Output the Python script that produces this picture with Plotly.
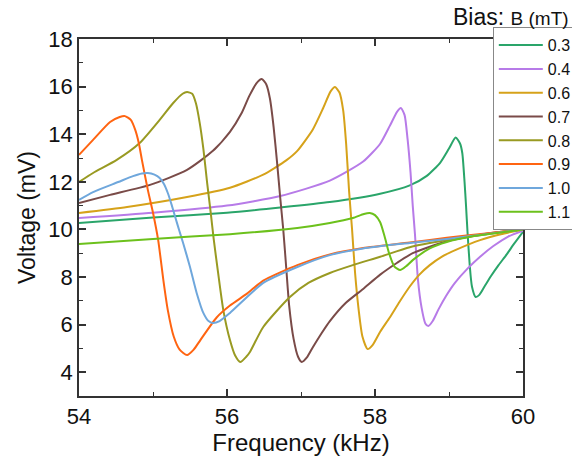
import plotly.graph_objects as go

labels = ["0.3", "0.4", "0.6", "0.7", "0.8", "0.9", "1.0", "1.1"]
colors = ["#2aa56a", "#b77be8", "#d6a21a", "#7a4b48", "#999a22", "#ff6411", "#6fa7dc", "#6cc11c"]

f_03 = [54.0, 55.0, 56.0, 56.72, 57.39, 58.07, 58.47, 58.7, 58.88, 59.0, 59.09, 59.15, 59.18, 59.21, 59.23, 59.25, 59.28, 59.31, 59.36, 59.41, 59.48, 59.57, 59.67, 59.78, 59.88, 60.0]
v_03 = [10.27, 10.5, 10.7, 10.92, 11.15, 11.5, 11.85, 12.25, 12.8, 13.4, 13.86, 13.6, 13.2, 12.0, 11.0, 9.9, 8.5, 7.6, 7.16, 7.25, 7.6, 8.05, 8.5, 8.95, 9.4, 9.9]

f_04 = [54.0, 55.0, 56.0, 56.72, 57.39, 57.84, 58.07, 58.2, 58.3, 58.35, 58.4, 58.44, 58.48, 58.51, 58.54, 58.58, 58.63, 58.68, 58.72, 58.78, 58.86, 58.96, 59.08, 59.25, 59.42, 59.6, 59.8, 60.0]
v_04 = [10.48, 10.7, 11.0, 11.4, 12.05, 12.85, 13.6, 14.35, 14.95, 15.1, 14.8, 13.8, 12.4, 11.0, 9.8, 7.9, 6.7, 6.05, 5.94, 6.15, 6.65, 7.2, 7.75, 8.35, 8.85, 9.3, 9.7, 9.95]

f_06 = [54.0, 54.65, 55.46, 56.04, 56.49, 56.8, 56.95, 57.16, 57.3, 57.4, 57.46, 57.52, 57.57, 57.61, 57.65, 57.69, 57.73, 57.78, 57.83, 57.9, 57.97, 58.07, 58.2, 58.33, 58.47, 58.6, 58.74, 58.9, 59.1, 59.42, 59.7, 60.0]
v_06 = [10.69, 10.94, 11.36, 11.75, 12.3, 12.9, 13.3, 14.2, 15.1, 15.8, 15.98, 15.75, 15.0, 13.6, 11.6, 10.0, 8.2, 6.6, 5.5, 4.97, 5.15, 5.7, 6.3, 6.95, 7.6, 8.1, 8.5, 8.85, 9.15, 9.55, 9.8, 10.0]

f_07 = [54.0, 54.42, 54.96, 55.46, 55.81, 56.04, 56.2, 56.3, 56.4, 56.47, 56.53, 56.58, 56.63, 56.68, 56.72, 56.76, 56.8, 56.84, 56.9, 56.96, 57.01, 57.08, 57.16, 57.28, 57.39, 57.6, 57.84, 58.07, 58.3, 58.51, 58.97, 59.5, 60.0]
v_07 = [11.11, 11.45, 11.87, 12.5, 13.3, 14.1, 14.9, 15.6, 16.15, 16.32, 16.1, 15.5, 14.3, 12.7, 11.3, 10.0, 8.4, 6.8, 5.4, 4.65, 4.43, 4.62, 5.05, 5.65, 6.15, 6.9, 7.5, 8.1, 8.6, 9.0, 9.5, 9.82, 10.0]

f_08 = [54.0, 54.19, 54.51, 54.82, 55.09, 55.27, 55.4, 55.46, 55.53, 55.58, 55.63, 55.68, 55.73, 55.78, 55.82, 55.88, 55.95, 56.04, 56.11, 56.18, 56.26, 56.31, 56.49, 56.85, 57.1, 57.39, 57.7, 58.07, 58.47, 58.97, 59.5, 60.0]
v_08 = [11.99, 12.37, 12.92, 13.63, 14.6, 15.3, 15.7, 15.77, 15.7, 15.3, 14.5, 13.4, 12.0, 10.7, 9.6, 8.17, 6.61, 5.35, 4.7, 4.43, 4.65, 4.85, 5.9, 7.16, 7.75, 8.17, 8.5, 8.85, 9.25, 9.55, 9.8, 10.0]

f_09 = [54.0, 54.19, 54.42, 54.55, 54.62, 54.7, 54.76, 54.81, 54.85, 54.93, 55.0, 55.07, 55.14, 55.2, 55.28, 55.36, 55.46, 55.55, 55.64, 55.86, 56.04, 56.27, 56.49, 56.95, 57.39, 57.84, 58.47, 58.97, 59.5, 60.0]
v_09 = [13.13, 13.76, 14.51, 14.72, 14.76, 14.6, 14.18, 13.6, 12.92, 11.66, 10.7, 9.55, 7.87, 6.61, 5.5, 4.95, 4.72, 4.95, 5.35, 6.3, 6.8, 7.3, 7.85, 8.5, 8.95, 9.22, 9.45, 9.65, 9.83, 10.0]

f_10 = [54.0, 54.19, 54.53, 54.73, 54.85, 54.93, 55.02, 55.09, 55.15, 55.2, 55.25, 55.3, 55.36, 55.41, 55.5, 55.59, 55.68, 55.75, 55.81, 55.9, 56.04, 56.49, 56.95, 57.39, 57.84, 58.47, 58.97, 59.5, 60.0]
v_10 = [11.24, 11.57, 11.99, 12.24, 12.35, 12.37, 12.3, 12.16, 11.9, 11.53, 11.05, 10.52, 9.9, 9.4, 8.42, 7.33, 6.49, 6.15, 6.07, 6.15, 6.49, 7.75, 8.42, 8.92, 9.2, 9.43, 9.6, 9.8, 10.0]

f_11 = [54.0, 55.0, 56.04, 56.95, 57.39, 57.7, 57.85, 57.93, 58.0, 58.07, 58.13, 58.19, 58.26, 58.34, 58.42, 58.51, 58.74, 58.97, 59.3, 59.65, 60.0]
v_11 = [9.39, 9.6, 9.8, 10.06, 10.27, 10.48, 10.65, 10.69, 10.6, 10.3, 9.7, 9.0, 8.45, 8.29, 8.45, 8.71, 9.2, 9.47, 9.7, 9.85, 10.0]

freqs = [f_03, f_04, f_06, f_07, f_08, f_09, f_10, f_11]
volts = [v_03, v_04, v_06, v_07, v_08, v_09, v_10, v_11]

FONT = "Liberation Sans, Arial, sans-serif"

fig = go.Figure()
for lab, col, fx, vy in zip(labels, colors, freqs, volts):
    fig.add_trace(go.Scatter(x=fx, y=vy, mode="lines", name=lab,
                             line=dict(color=col, width=2, shape="spline", smoothing=0.6)))

axis_common = dict(showline=True, linecolor="#333333", linewidth=1.5, mirror="allticks",
                   ticks="inside", ticklen=7, tickwidth=1.5, tickcolor="#333333",
                   showgrid=False, zeroline=False,
                   tickfont=dict(family=FONT, size=22, color="#111111"),
                   minor=dict(ticks="inside", ticklen=4, tickwidth=1.2, tickcolor="#333333", dtick=1))

fig.update_xaxes(range=[54, 60], dtick=2, tick0=54,
                 title=dict(text="Frequency (kHz)", font=dict(family=FONT, size=24, color="#111111"), standoff=4),
                 **axis_common)
fig.update_yaxes(range=[3, 18], dtick=2, tick0=4,
                 title=dict(text="Voltage (mV)", font=dict(family=FONT, size=23, color="#111111"), standoff=6),
                 **axis_common)

fig.add_annotation(xref="paper", yref="paper", x=1.108, y=1.062, xanchor="right", yanchor="middle",
                   text="Bias: <span style='font-size:19px'>B (mT)</span>", showarrow=False,
                   font=dict(family=FONT, size=23, color="#111111"))

fig.update_layout(
    width=572, height=459,
    margin=dict(l=79, r=49, t=39, b=63, autoexpand=False),
    plot_bgcolor="white", paper_bgcolor="white",
    legend=dict(x=0.932, y=1.033, xanchor="left", yanchor="top",
                bgcolor="white", bordercolor="#888888", borderwidth=1,
                font=dict(family=FONT, size=16, color="#111111"),
                itemwidth=44, tracegroupgap=0),
)

fig.write_html("out.html")
